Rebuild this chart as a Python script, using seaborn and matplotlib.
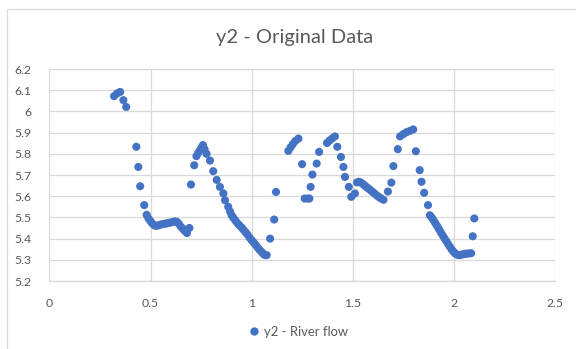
import matplotlib
matplotlib.use("Agg")
import matplotlib.pyplot as plt
from matplotlib.patches import Rectangle
from matplotlib.ticker import FuncFormatter
import seaborn as sns
import pandas as pd

# River flow observations (time, y2)
t_start = [0.320, 0.335, 0.350, 0.366, 0.380]
y_start = [6.072, 6.085, 6.092, 6.053, 6.021]

t_fall1 = [0.430, 0.440, 0.449, 0.469, 0.481, 0.490, 0.500, 0.510, 0.520, 0.530,
           0.540, 0.550, 0.560, 0.570, 0.580, 0.590, 0.600, 0.610, 0.620, 0.630,
           0.640, 0.650, 0.660, 0.670, 0.680, 0.692]
y_fall1 = [5.833, 5.738, 5.647, 5.558, 5.512, 5.495, 5.482, 5.470, 5.462, 5.460,
           5.463, 5.466, 5.468, 5.470, 5.472, 5.474, 5.476, 5.478, 5.481, 5.479,
           5.470, 5.456, 5.446, 5.436, 5.426, 5.450]

t_peak1 = [0.700, 0.716, 0.727, 0.736, 0.745, 0.752, 0.759, 0.767, 0.777, 0.794,
           0.810, 0.827, 0.843, 0.860, 0.868, 0.884, 0.893, 0.901, 0.910, 0.920,
           0.930, 0.940, 0.950, 0.960, 0.970, 0.980, 0.990, 1.000, 1.010, 1.020,
           1.030, 1.040, 1.050, 1.058, 1.066, 1.074]
y_peak1 = [5.655, 5.746, 5.789, 5.805, 5.818, 5.830, 5.841, 5.822, 5.800, 5.768,
           5.718, 5.677, 5.644, 5.613, 5.581, 5.550, 5.528, 5.510, 5.497, 5.485,
           5.472, 5.462, 5.452, 5.441, 5.430, 5.418, 5.404, 5.392, 5.381, 5.370,
           5.357, 5.346, 5.336, 5.327, 5.322, 5.322]

t_peak2 = [1.091, 1.111, 1.120, 1.181, 1.192, 1.203, 1.215, 1.231, 1.249, 1.262,
           1.276, 1.285, 1.291, 1.300, 1.321, 1.333, 1.372, 1.384, 1.397, 1.411,
           1.423, 1.441, 1.453, 1.461, 1.480, 1.492, 1.510]
y_peak2 = [5.400, 5.490, 5.620, 5.814, 5.830, 5.845, 5.860, 5.872, 5.751, 5.589,
           5.589, 5.589, 5.644, 5.702, 5.754, 5.809, 5.851, 5.862, 5.872, 5.882,
           5.833, 5.785, 5.738, 5.691, 5.644, 5.597, 5.613]

t_peak3 = [1.520, 1.530, 1.540, 1.550, 1.560, 1.570, 1.580, 1.590, 1.600, 1.610,
           1.620, 1.630, 1.640, 1.651, 1.673, 1.690, 1.700, 1.722, 1.733, 1.749,
           1.765, 1.781, 1.798, 1.811, 1.830, 1.839, 1.852, 1.871]
y_peak3 = [5.665, 5.668, 5.664, 5.657, 5.649, 5.641, 5.634, 5.626, 5.618, 5.610,
           5.602, 5.595, 5.589, 5.583, 5.622, 5.664, 5.742, 5.822, 5.882, 5.893,
           5.902, 5.908, 5.915, 5.812, 5.723, 5.668, 5.616, 5.558]

t_fall3 = [1.880, 1.889, 1.898, 1.907, 1.916, 1.925, 1.934, 1.943, 1.952, 1.961,
           1.970, 1.979, 1.988, 1.997, 2.006, 2.015, 2.024, 2.033, 2.043, 2.053,
           2.063, 2.073, 2.084, 2.092, 2.100]
y_fall3 = [5.510, 5.500, 5.487, 5.473, 5.459, 5.445, 5.430, 5.416, 5.402, 5.389,
           5.375, 5.362, 5.349, 5.338, 5.329, 5.324, 5.322, 5.323, 5.326, 5.328,
           5.329, 5.330, 5.331, 5.411, 5.495]

x_ticks = [0, 0.5, 1, 1.5, 2, 2.5]
y_ticks = [5.2, 5.3, 5.4, 5.5, 5.6, 5.7, 5.8, 5.9, 6.0, 6.1, 6.2]

title = "y2 - Original Data"
series_name = "y2 - River flow"

time = t_start + t_fall1 + t_peak1 + t_peak2 + t_peak3 + t_fall3
flow = y_start + y_fall1 + y_peak1 + y_peak2 + y_peak3 + y_fall3
df = pd.DataFrame({"time": time, "flow": flow, "series": series_name})

sns.set_theme(style="white")
plt.rcParams["font.family"] = ["Lato", "DejaVu Sans"]

BLUE = "#4472C4"
GRID = "#D9D9D9"
TEXT = "#595959"

fig = plt.figure(figsize=(5.76, 3.49), dpi=100)
fig.patch.set_facecolor("white")
ax = fig.add_axes([49.3 / 576, 1 - 281 / 349, (555.3 - 49.3) / 576, (281 - 69) / 349])

sns.scatterplot(data=df, x="time", y="flow", hue="series", palette=[BLUE],
                s=34, linewidth=0, ax=ax, legend=False, zorder=3)

ax.set_xlim(x_ticks[0], x_ticks[-1])
ax.set_ylim(y_ticks[0], y_ticks[-1])
ax.set_xticks(x_ticks)
ax.set_yticks(y_ticks)
fmt = FuncFormatter(lambda v, _: f"{round(v, 2):g}")
ax.xaxis.set_major_formatter(fmt)
ax.yaxis.set_major_formatter(fmt)
ax.grid(True, color=GRID, linewidth=0.9, zorder=0)
ax.set_axisbelow(True)
for name, sp in ax.spines.items():
    sp.set_visible(name == "bottom")
ax.spines["bottom"].set_color(GRID)
ax.spines["bottom"].set_linewidth(0.9)
ax.tick_params(axis="both", length=0, labelsize=8.8, labelcolor=TEXT)
ax.tick_params(axis="x", pad=12)
ax.tick_params(axis="y", pad=13)
ax.set_xlabel("")
ax.set_ylabel("")

fig.text(295 / 576, 1 - 38 / 349, title, ha="center", va="center",
         fontsize=14.5, color=TEXT)

# legend entry below the plot
handle = plt.Line2D([], [], marker="o", linestyle="", markersize=6,
                    markerfacecolor=BLUE, markeredgewidth=0)
fig.legend([handle], [series_name], loc="center",
           bbox_to_anchor=(298 / 576, 1 - 331.5 / 349), frameon=False,
           fontsize=9.4, labelcolor=TEXT, handletextpad=0.3, handlelength=0.9)

# chart area border
fig.patches.append(Rectangle((7.3 / 576, -0.2), 1.2, 1 - 9.3 / 349 + 0.2,
                             transform=fig.transFigure, fill=False,
                             edgecolor=GRID, linewidth=0.9))

fig.savefig("out.png", dpi=100, facecolor="white")
